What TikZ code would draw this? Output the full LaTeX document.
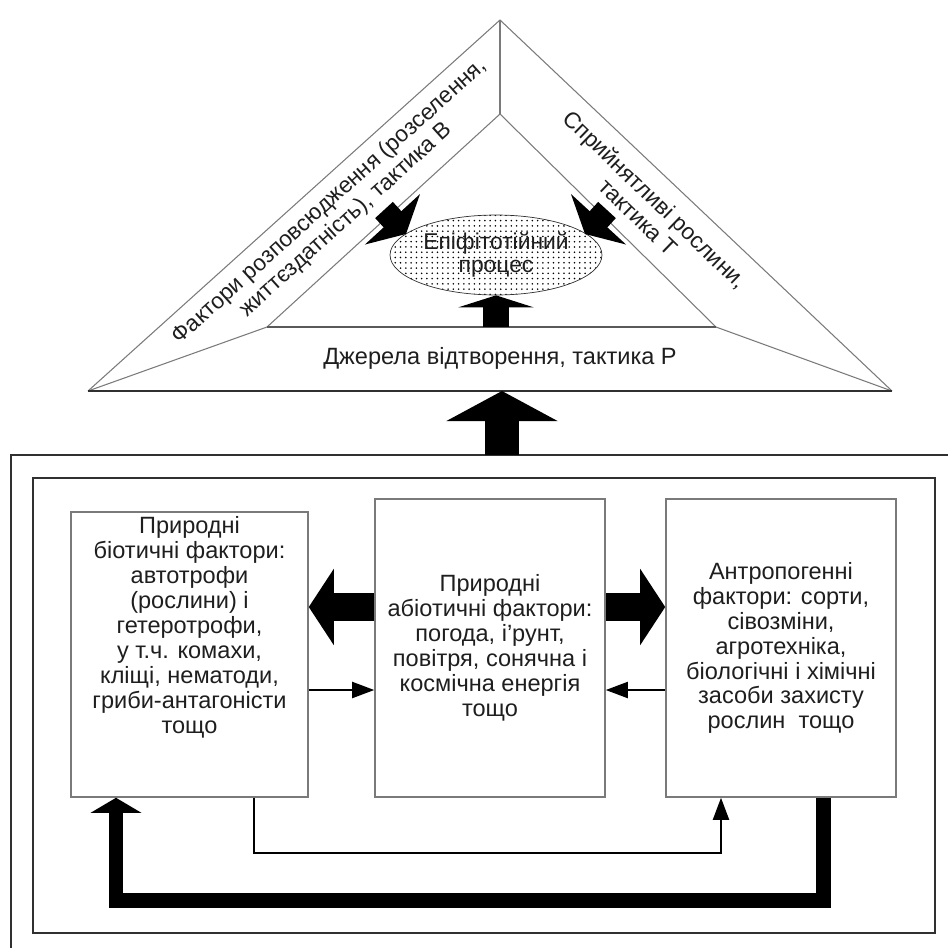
\documentclass[tikz,border=0pt]{standalone}
\usepackage{fontspec}
\setmainfont{Liberation Sans}
\usetikzlibrary{arrows.meta, calc, patterns, shapes.geometric}
\definecolor{LineGray}{HTML}{7A7A7A}
\definecolor{FrameDark}{HTML}{303030}
\definecolor{TextDark}{HTML}{1E1E1E}

\begin{document}
\begin{tikzpicture}[x=0.02cm, y=-0.02cm,
    tri/.style={draw=LineGray, line width=0.6pt},
    fbox/.style={draw=LineGray, line width=0.9pt, minimum width=4.6cm, minimum height=5.96cm},
    ftext/.style={align=center, text=TextDark, inner sep=0pt, font=\fontsize{13.4}{14.2}\selectfont},
    bandtext/.style={ftext, font=\fontsize{12.9}{14}\selectfont},
    frame/.style={draw=FrameDark, line width=1.3pt},
    block/.style={line width=0.56cm, -{Triangle[width=1.5cm, length=0.5cm]}},
    slant/.style={line width=0.48cm, -{Triangle[width=1.48cm, length=0.4cm]}},
    thinarr/.style={line width=1.1pt, -{Triangle[width=0.32cm, length=0.44cm]}}]

    % Page
    \useasboundingbox (0,0) rectangle (948,948);
    \clip (0,0) rectangle (948,948);

    % Triangle corners
    \coordinate (A) at (500,20);
    \coordinate (L) at (88,391);
    \coordinate (R) at (892,391);
    \coordinate (I) at (500,114);
    \coordinate (IL) at (267,327);
    \coordinate (IR) at (716,327);

    % Triangle
    \draw[tri] (L) -- (A) -- (R);
    \draw[tri] (IL) -- (I) -- (IR);
    \draw[tri] (A) -- (I);
    \draw[tri] (L) -- (IL);
    \draw[tri] (R) -- (IR);
    \draw[tri, draw=FrameDark] (L) -- (R);
    \draw[tri, draw=FrameDark!80] (IL) -- (IR);

    % Band labels
    \node[bandtext, rotate=42] (spread) at (338,211) {Фактори розповсюдження (розселення,\\життєздатність), тактика В};
    \node[bandtext, rotate=-44] (hosts) at (647,208) {Сприйнятливі рослини,\\тактика Т};
    \node[ftext] (sources) at (500,358) {Джерела відтворення, тактика Р};

    % Epiphytotic process
    \node[ellipse, draw=FrameDark, pattern=dots, minimum width=4.24cm, minimum height=1.6cm,
          ftext, font=\fontsize{13}{13.5}\selectfont] (epi) at (496,255) {Епіфітотійний\\процес};

    % Arrows into the process
    \coordinate (bt) at (384,210);
    \coordinate (bh) at (406,234);
    \coordinate (tt) at (607,210);
    \coordinate (th) at (585,234);
    \draw[slant] (bt) -- (bh);
    \draw[slant] (tt) -- (th);
    \draw[line width=0.54cm, -{Triangle[width=1.5cm, length=0.24cm]}] (epi.south |- IL) -- (epi.south);

    % Frames
    \draw[frame] (11,960) -- (11,455) -- (960,455);
    \draw[frame] (33,478) rectangle (935,933);

    % Up arrow to the triangle
    \coordinate (feed) at (502,455);
    \draw[line width=0.7cm, -{Triangle[width=2.2cm, length=0.6cm]}] (feed) -- (feed |- L);

    % Factor boxes
    \node[fbox, minimum width=4.74cm, minimum height=5.7cm] (biot) at (189.5,654.5) {};
    \node[ftext, anchor=north] (biottxt) at ($(biot.north)+(0,5)$) {Природні\\біотичні фактори:\\автотрофи\\(рослини) і\\гетеротрофи,\\у т.ч. комахи,\\кліщі, нематоди,\\гриби-антагоністи\\тощо};
    \node[fbox, ftext] (abio) at (490,648) {Природні\\абіотичні фактори:\\погода, і'рунт,\\повітря, сонячна і\\космічна енергія\\тощо};
    \node[fbox, ftext] (anthro) at (781,648) {Антропогенні\\фактори: сорти,\\сівозміни,\\агротехніка,\\біологічні і хімічні\\засоби захисту\\рослин~ тощо};

    % Links between boxes
    \coordinate (upper) at (0,607);
    \coordinate (lower) at (0,690);
    \draw[block] (abio.west |- upper) -- (biot.east |- upper);
    \draw[block] (abio.east |- upper) -- (anthro.west |- upper);
    \draw[thinarr] (biot.east |- lower) -- (abio.west |- lower);
    \draw[thinarr] (anthro.west |- lower) -- (abio.east |- lower);

    % Return loops
    \coordinate (lt1) at (254,853);
    \coordinate (lt2) at (721,853);
    \draw[thinarr] (biot.south -| lt1) -- (lt1) -- (lt2) -- (anthro.south -| lt2);
    \coordinate (lb1) at (823,900);
    \coordinate (lb2) at (116,900);
    \draw[line width=0.3cm, -{Triangle[width=1cm, length=0.3cm]}] (anthro.south -| lb1) -- (lb1) -- (lb2) -- (biot.south -| lb2);
\end{tikzpicture}
\end{document}
